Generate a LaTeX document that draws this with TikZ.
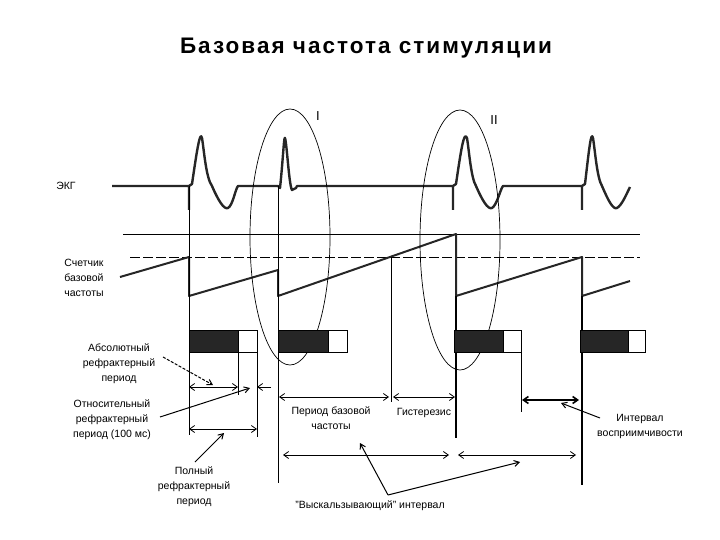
\documentclass[tikz,border=0pt]{standalone}
\usepackage{fontspec}
\setmainfont{Liberation Sans}
\usetikzlibrary{arrows.meta}
\begin{document}
\begin{tikzpicture}[x=1pt,y=-1pt,
  ecg/.style={line width=2.4pt,line join=round,color=black!85},
  thin/.style={line width=0.7pt},
  dim/.style={line width=0.8pt,{Straight Barb[length=5pt,width=7pt]}-{Straight Barb[length=5pt,width=7pt]}},
  ptr/.style={line width=1pt,-{Straight Barb[length=5pt,width=6pt]}},
  lbl/.style={font=\fontsize{10.5}{15}\selectfont,align=center,inner sep=0pt},
  blk/.style={fill=black!85,draw=black},
  wht/.style={fill=white,draw=black}]
\useasboundingbox (0,0) rectangle (720,540);
\node[font=\bfseries\fontsize{22.5}{26}\selectfont\addfontfeature{LetterSpace=9}] (title) at (366,48) {Базовая частота стимуляции};
% ECG
\draw[ecg] (112,186) -- (189,186) -- (189,210) (189,186) -- (192,184) .. controls (197,150) and (200,130) .. (202,138)
  .. controls (204,150) and (206,178) .. (212,186) .. controls (218,200) and (224,210) .. (228,208)
  .. controls (233,205) and (235,190) .. (238,186) -- (278,186) -- (280,188) .. controls (283,160) and (284,135) .. (285,138)
  .. controls (287,145) and (289,185) .. (292,190) -- (296,188) -- (297,186) -- (453,186) -- (453,210) (453,186) -- (456,184)
  .. controls (461,150) and (464,130) .. (467,138) .. controls (469,150) and (471,178) .. (476,186)
  .. controls (482,200) and (488,210) .. (492,208) .. controls (497,205) and (500,190) .. (503,186) -- (582,186) -- (582,210) (582,186) -- (585,184)
  .. controls (589,150) and (591,130) .. (593,138) .. controls (595,150) and (597,178) .. (602,186)
  .. controls (608,200) and (613,210) .. (617,208) .. controls (622,205) and (626,195) .. (630,187);
% horizontal reference lines
\draw[thin] (123,234) -- (640,234);
\draw[thin,dashed,dash pattern=on 10pt off 3pt] (130,257) -- (640,257);
% sawtooth
\draw[ecg,line width=2pt] (120,277) -- (189,257) -- (189,296) -- (278,270) -- (278,296) -- (456,234) -- (456,296) -- (582,257) -- (582,296) -- (630,281);
% vertical lines
\draw[thin] (189,186) -- (189,435);
\draw[thin] (278,186) -- (278,483);
\draw[line width=1.4pt] (456,296) -- (456,438);
\draw[line width=1.4pt] (582,296) -- (582,485);
\draw[thin] (391,257) -- (391,402);
\draw[thin] (238,352) -- (238,395);
\draw[thin] (257,352) -- (257,437);
\draw[line width=1pt] (521,352) -- (521,412);
% ellipses
\draw[thin] (290,237) ellipse [x radius=40, y radius=128];
\draw[thin] (460,240) ellipse [x radius=40, y radius=130];
\node[font=\fontsize{13}{14}\selectfont\rmfamily] (e1) at (318,116) {I};
\node[font=\fontsize{13}{14}\selectfont\rmfamily] (e2) at (494,120) {II};
% blocks
\fill[blk] (189,330) rectangle (238,352); \draw[wht] (238,330) rectangle (257,352);
\fill[blk] (278,330) rectangle (328,352); \draw[wht] (328,330) rectangle (347,352);
\fill[blk] (454,330) rectangle (503,352); \draw[wht] (503,330) rectangle (521,352);
\fill[blk] (580,330) rectangle (628,352); \draw[wht] (628,330) rectangle (645,352);
% coordinates for dimension arrows
\coordinate (a1) at (189,387); \coordinate (a2) at (238,387);
\coordinate (a3) at (257,387); \coordinate (a4) at (271,387);
\coordinate (b1) at (189,429); \coordinate (b2) at (257,429);
\coordinate (c1) at (279,397); \coordinate (c2) at (389,397);
\coordinate (d1) at (393,397); \coordinate (d2) at (455,397);
\coordinate (f1) at (522,400); \coordinate (f2) at (579,400);
\coordinate (g1) at (283,455); \coordinate (g2) at (449,455);
\coordinate (h1) at (458,455); \coordinate (h2) at (576,455);
\draw[dim] (a1) -- (a2);
\draw[line width=0.8pt,-{Straight Barb[length=5pt,width=7pt]}] (a4) -- (a3);
\draw[dim] (b1) -- (b2);
\draw[dim] (c1) -- (c2);
\draw[dim] (d1) -- (d2);
\draw[dim,line width=1.6pt] (f1) -- (f2);
\draw[dim] (g1) -- (g2);
\draw[dim] (h1) -- (h2);
% labels
\node[lbl] (ekg) at (66,186) {ЭКГ};
\node[lbl] (cnt) at (84,278) {Счетчик\\базовой\\частоты};
\node[lbl] (abs) at (119,364) {Абсолютный\\рефрактерный\\период};
\node[lbl] (rel) at (112,420) {Относительный\\рефрактерный\\период (100 мс)};
\node[lbl] (full) at (194,487) {Полный\\рефрактерный\\период};
\node[lbl] (per) at (331,418) {Период базовой\\частоты};
\node[lbl] (hys) at (424,413) {Гистерезис};
\node[lbl] (sens) at (640,426) {Интервал\\восприимчивости};
\node[lbl] (esc) at (370,506) {"Выскальзывающий" интервал};
% pointers
\coordinate (pa) at (213,385); \coordinate (pr) at (250,388); \coordinate (pf) at (224,433);
\coordinate (ps) at (561,403); \coordinate (pe1) at (360,443); \coordinate (pe2) at (520,462);
\coordinate (pe0) at (388,495);
\draw[ptr,dashed,dash pattern=on 3pt off 1.5pt] (163,357) -- (pa);
\draw[ptr] (160,417) -- (pr);
\draw[ptr] (195,462) -- (pf);
\draw[ptr] (600,418) -- (ps);
\draw[ptr] (pe0) -- (pe1);
\draw[ptr] (pe0) -- (pe2);
\end{tikzpicture}
\end{document}
